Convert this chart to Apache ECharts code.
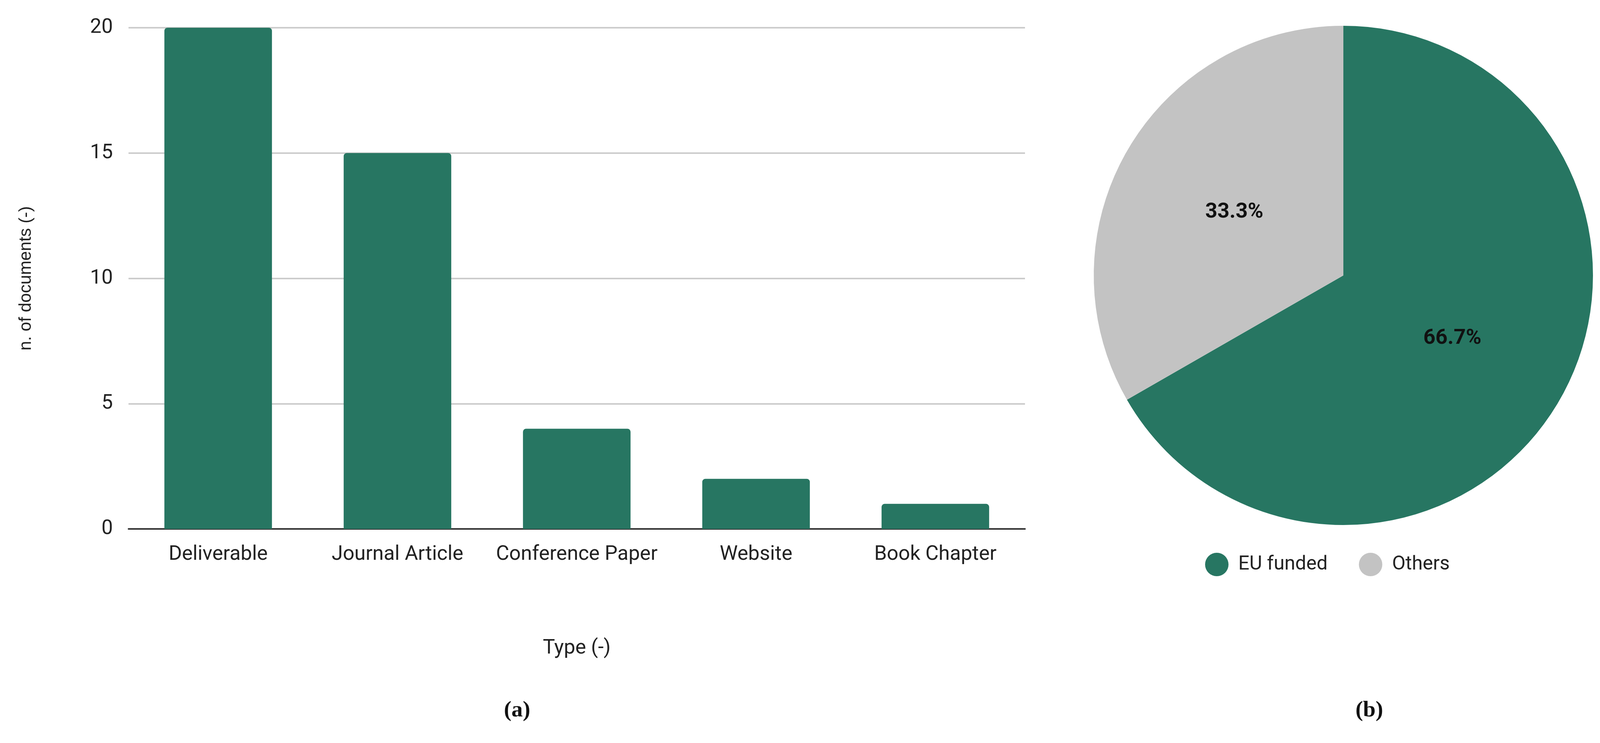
<!DOCTYPE html>
<html><head><meta charset="utf-8">
<script src="https://cdn.jsdelivr.net/npm/echarts@6/dist/echarts.min.js"></script>
<style>html,body{margin:0;background:#fff}#c{width:4122px;height:1902px}</style>
</head><body><div id="c"></div>
<script>
const categories = ['Deliverable','Journal Article','Conference Paper','Website','Book Chapter'];
const counts = [20,15,4,2,1];
const yTicks = [0,5,10,15,20];
const pieNames = ['EU funded','Others'];
const pieValues = [66.7,33.3];
const F = '"Liberation Sans Narrow", "Roboto", sans-serif';
const chart = echarts.init(document.getElementById('c'));
chart.setOption({
  animation:false,
  textStyle:{fontFamily:F},
  grid:{left:329,right:4122-2624,top:71,bottom:1902-1354},
  xAxis:{type:'category',data:categories,
    axisLine:{lineStyle:{color:'#333',width:4}},axisTick:{show:false},
    axisLabel:{fontSize:52,color:'#222',margin:40,fontFamily:F,interval:0},
    name:'Type (-)',nameLocation:'middle',nameGap:280,nameTextStyle:{fontSize:52,color:'#222',fontFamily:F}},
  yAxis:{type:'value',min:0,max:20,interval:5,
    axisLabel:{fontSize:52,color:'#222',margin:40,fontFamily:F},
    splitLine:{lineStyle:{color:'#cccccc',width:4}},
    name:'n. of documents (-)',nameLocation:'middle',nameGap:240,nameTextStyle:{fontSize:44,color:'#222',fontFamily:'Liberation Sans'}},
  legend:{data:pieNames,left:3080,top:1410,icon:'circle',itemWidth:60,itemHeight:60,itemGap:80,
    textStyle:{fontSize:50,color:'#222',fontFamily:F,padding:[0,0,0,20]}},
  series:[
    {type:'bar',data:counts,barWidth:'60%',itemStyle:{color:'#277662',borderRadius:[8,8,0,0]}},
    {type:'pie',center:[3439,705],radius:639,startAngle:90,clockwise:true,
     data:pieNames.map((n,i)=>({name:n,value:pieValues[i],itemStyle:{color:i?'#c3c3c3':'#277662'}})),
     label:{position:'inside',formatter:p=>p.value.toFixed(1)+'%',fontSize:54,fontWeight:'bold',color:'#111',fontFamily:F},
     labelLine:{show:false}}
  ],
  graphic:[
    {type:'text',left:1290,top:1790,style:{text:'(a)',font:'bold 58px "Liberation Serif"',fill:'#111'}},
    {type:'text',left:3470,top:1790,style:{text:'(b)',font:'bold 58px "Liberation Serif"',fill:'#111'}}
  ]
});
</script></body></html>
